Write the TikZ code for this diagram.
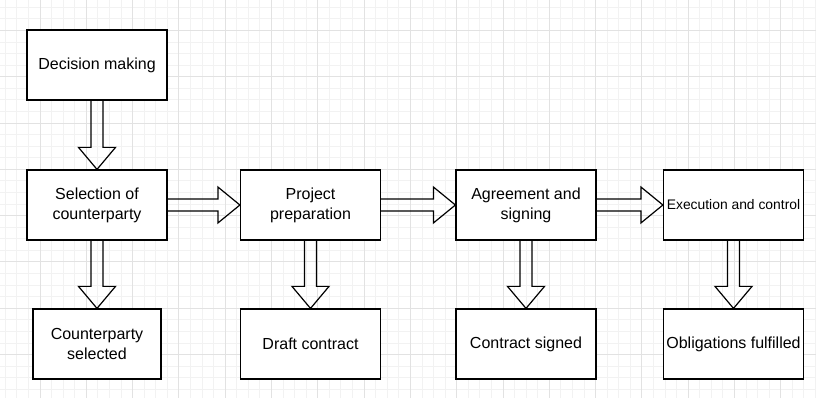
\documentclass[tikz,border=0pt]{standalone}
\usepackage{fontspec}
\setmainfont{Liberation Sans}
\usetikzlibrary{calc}

\tikzset{every picture/.style={line width=0.75pt}}
\tikzset{
  stepbox/.style={draw=black, fill=white, line width=0.9pt, minimum width=105pt, minimum height=52.5pt,
    inner sep=0pt, align=center, font=\fontsize{12}{15}\selectfont},
  flexarrow/.style={draw=black, line width=0.9pt, line join=miter},
  gridminor/.style={draw={rgb, 255:red, 242; green, 242; blue, 242}, line width=0.75pt},
  gridmajor/.style={draw={rgb, 255:red, 226; green, 226; blue, 226}, line width=0.75pt},
}

% block arrow from the bottom of #1 to the top of #2
\newcommand{\flexdown}[2]{%
\draw [flexarrow] ($(#1.south)+(-6,0)$) -- ($(#2.north)+(-6,-22)$) -- ($(#2.north)+(-18.5,-22)$) -- (#2.north)
  -- ($(#2.north)+(18.5,-22)$) -- ($(#2.north)+(6,-22)$) -- ($(#1.south)+(6,0)$) ;}
% block arrow from the right of #1 to the left of #2
\newcommand{\flexright}[2]{%
\draw [flexarrow] ($(#1.east)+(0,-6)$) -- ($(#2.west)+(-22,-6)$) -- ($(#2.west)+(-22,-18)$) -- (#2.west)
  -- ($(#2.west)+(-22,18)$) -- ($(#2.west)+(-22,6)$) -- ($(#1.east)+(0,6)$) ;}

\begin{document}
\begin{tikzpicture}[x=0.75pt,y=0.75pt,yscale=-1,xscale=1]
\fill [white] (0,0) rectangle (816,398);
\useasboundingbox (0,0) rectangle (816,398);

%Grid
\foreach \i in {0,...,70} \draw [gridminor] ({5.3+11.575*\i},0) -- ({5.3+11.575*\i},398);
\foreach \j in {0,...,34} \draw [gridminor] (0,{7.35+11.575*\j}) -- (816,{7.35+11.575*\j});
\foreach \i in {0,...,17} \draw [gridmajor] ({40+46.3*\i},0) -- ({40+46.3*\i},398);
\foreach \j in {0,...,8} \draw [gridmajor] (0,{30.5+46.3*\j}) -- (816,{30.5+46.3*\j});

%Shape: Rectangle
\node [stepbox] (decision) at (97,65) {Decision making};
\node [stepbox] (selection) at (97,205) {Selection of\\counterparty};
\node [stepbox, minimum width=96pt] (selected) at (97,344) {Counterparty\\selected};

\node [stepbox] (project) at (310.5,205) {Project\\preparation};
\node [stepbox] (draft) at (310.5,344) {Draft contract};

\node [stepbox] (agreement) at (526,205) {Agreement and\\signing};
\node [stepbox] (signed) at (526,344) {Contract signed};

\node [stepbox, font=\fontsize{10.4}{12.5}\selectfont] (execution) at (733.5,205) {Execution and control};
\node [stepbox] (fulfilled) at (733.5,344) {Obligations fulfilled};

%Block Arrows
\flexdown{decision}{selection}
\flexdown{selection}{selected}
\flexdown{project}{draft}
\flexdown{agreement}{signed}
\flexdown{execution}{fulfilled}

\flexright{selection}{project}
\flexright{project}{agreement}
\flexright{agreement}{execution}

\end{tikzpicture}
\end{document}
